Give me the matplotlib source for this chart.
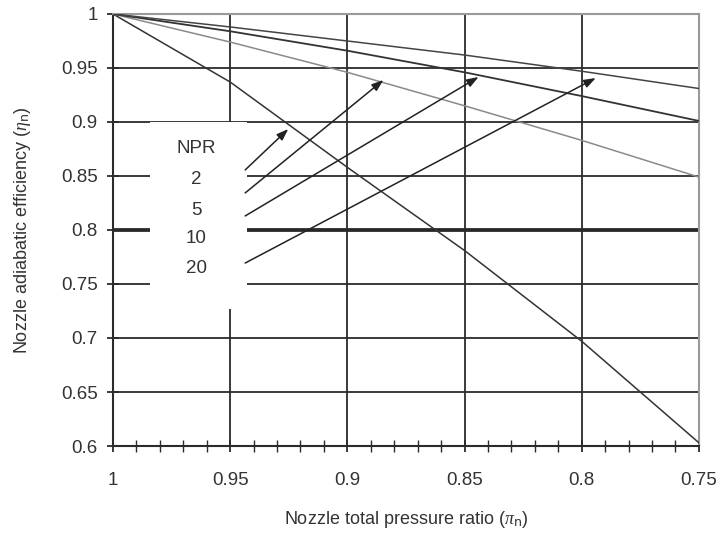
import matplotlib
matplotlib.use("Agg")
import matplotlib.pyplot as plt
from matplotlib.patches import Rectangle
from matplotlib.ticker import MultipleLocator, FuncFormatter

plt.rcParams["font.family"] = ["Liberation Sans", "DejaVu Sans"]
plt.rcParams["mathtext.fontset"] = "custom"
plt.rcParams["mathtext.it"] = "Liberation Serif:italic"

# pressure ratio values where the curves were read
pi_n = [1.0, 0.95, 0.9, 0.85, 0.8, 0.75]

# nozzle adiabatic efficiency, per NPR
eta_npr2 = [1.0, 0.937, 0.858, 0.781, 0.697, 0.603]
eta_npr5 = [1.0, 0.974, 0.946, 0.915, 0.883, 0.849]
eta_npr10 = [1.0, 0.984, 0.966, 0.946, 0.924, 0.901]
eta_npr20 = [1.0, 0.988, 0.975, 0.962, 0.947, 0.931]

npr_labels = ["2", "5", "10", "20"]

fig = plt.figure(figsize=(7.22, 5.38), dpi=100)
ax = fig.add_axes([0.1565, 0.171, 0.8115, 0.803])

dark = "#2b2b2b"
txt = "#333333"

# grid
ax.set_xlim(1.0, 0.75)
ax.set_ylim(0.6, 1.0)
ax.xaxis.set_major_locator(MultipleLocator(0.05))
ax.xaxis.set_minor_locator(MultipleLocator(0.01))
ax.yaxis.set_major_locator(MultipleLocator(0.05))
ax.grid(True, which="major", color=dark, lw=1.3, zorder=1)
ax.axhline(0.8, color="#111111", lw=2.6, zorder=1.1)

fmt = FuncFormatter(lambda v, p: "%g" % round(v, 2))
ax.xaxis.set_major_formatter(fmt)
ax.yaxis.set_major_formatter(fmt)

# white box for the NPR labels
ax.add_patch(Rectangle((0.9427, 0.727), 0.0413, 0.173, facecolor="white",
                       edgecolor="none", zorder=2))

# curves
ax.plot(pi_n, eta_npr2, color="#333333", lw=1.1, zorder=3)
ax.plot(pi_n, eta_npr5, color="#8a8a8a", lw=1.1, zorder=3)
ax.plot(pi_n, eta_npr10, color="#333333", lw=1.3, zorder=3)
ax.plot(pi_n, eta_npr20, color="#444444", lw=1.1, zorder=3)

# labels and arrows
label_x = 0.9645
label_y = [0.8463, 0.8185, 0.7917, 0.7639]
arrow_start = [(0.9436, 0.8556), (0.9436, 0.8343), (0.9436, 0.813), (0.9436, 0.7694)]
arrow_end = [(0.9252, 0.8935), (0.8846, 0.9389), (0.844, 0.9417), (0.794, 0.9407)]

ax.text(label_x, 0.875, "NPR", ha="center", va="center", fontsize=13.5,
        color=txt, zorder=4)
for lab, ly, s, e in zip(npr_labels, label_y, arrow_start, arrow_end):
    ax.text(label_x, ly, lab, ha="center", va="center", fontsize=13.5,
            color=txt, zorder=4)
    ax.annotate("", xy=e, xytext=s, zorder=4,
                arrowprops=dict(arrowstyle="-|>,head_length=0.7,head_width=0.25",
                                color="#222222", lw=1.1, shrinkA=0, shrinkB=0))

# spines and ticks
for side in ["left", "bottom"]:
    ax.spines[side].set_color(dark)
    ax.spines[side].set_linewidth(1.5)
for side in ["top", "right"]:
    ax.spines[side].set_color("#9a9a9a")
    ax.spines[side].set_linewidth(1.5)
ax.tick_params(which="major", direction="inout", length=8, width=1.3,
               color=dark, labelsize=13.5, labelcolor=txt)
ax.tick_params(which="minor", direction="inout", length=8, width=1.0, color=dark)
ax.tick_params(axis="x", pad=15)
ax.tick_params(axis="y", pad=7)

ax.set_xlabel(r"Nozzle total pressure ratio ($\pi_\mathrm{n}$)", fontsize=13,
              color=txt, va="center")
ax.set_ylabel(r"Nozzle adiabatic efficiency ($\eta_\mathrm{n}$)", fontsize=13,
              color=txt, va="center")
ax.xaxis.set_label_coords(0.5, -0.171)
ax.yaxis.set_label_coords(-0.155, 0.5)

fig.savefig("out.png", dpi=100)
